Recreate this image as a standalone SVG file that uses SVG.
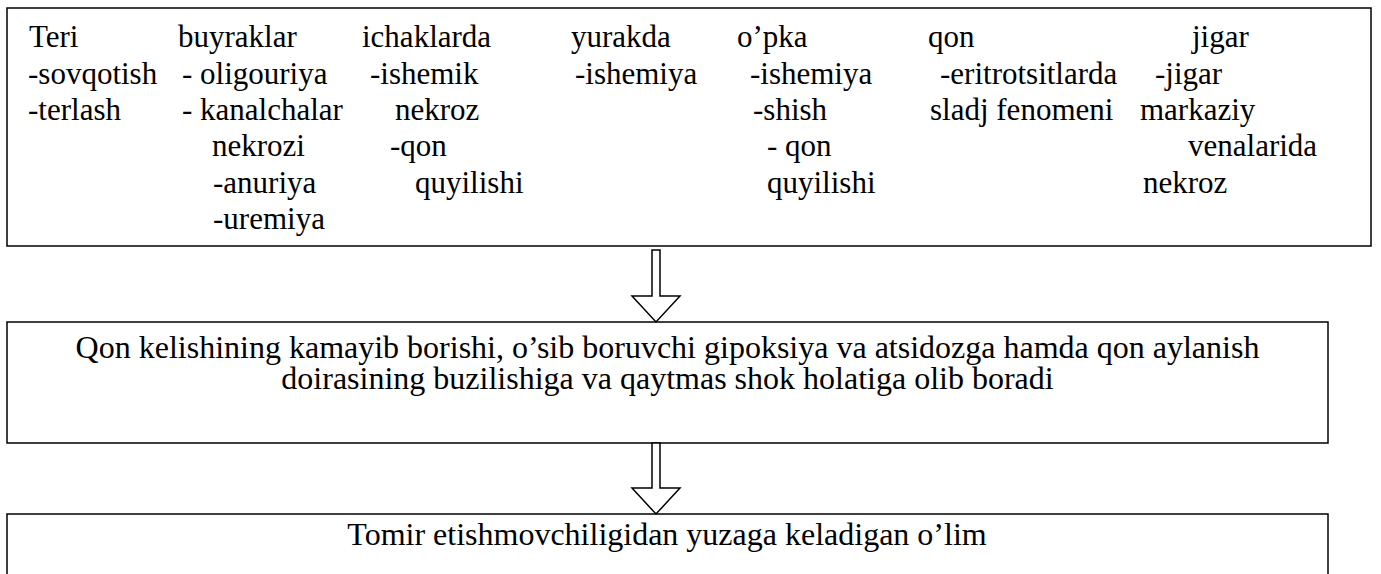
<svg xmlns="http://www.w3.org/2000/svg" width="1381" height="574" viewBox="0 0 1381 574">
<style>
.box{fill:#fff;stroke:#000;stroke-width:1.5}
.arr{fill:#fff;stroke:#000;stroke-width:1.5;stroke-linejoin:miter}
.t1{font-family:"Liberation Serif","Times New Roman",serif;font-size:31px;fill:#000}
.t2{font-family:"Liberation Serif","Times New Roman",serif;font-size:32px;fill:#000;text-anchor:middle}
</style>
<rect width="1381" height="574" fill="#fff"/>
<g id="node-organs">
<rect class="box" x="7" y="8" width="1364" height="238"/>
<text class="t1" y="47"><tspan x="29">Teri</tspan><tspan x="178">buyraklar</tspan><tspan x="362">ichaklarda</tspan><tspan x="571">yurakda</tspan><tspan x="737">o’pka</tspan><tspan x="928">qon</tspan><tspan x="1192">jigar</tspan></text>
<text class="t1" y="83.5"><tspan x="28">-sovqotish</tspan><tspan x="182">- oligouriya</tspan><tspan x="370">-ishemik</tspan><tspan x="575">-ishemiya</tspan><tspan x="750">-ishemiya</tspan><tspan x="940">-eritrotsitlarda</tspan><tspan x="1155">-jigar</tspan></text>
<text class="t1" y="119.5"><tspan x="28">-terlash</tspan><tspan x="182">- kanalchalar</tspan><tspan x="395">nekroz</tspan><tspan x="753">-shish</tspan><tspan x="930">sladj fenomeni</tspan><tspan x="1140">markaziy</tspan></text>
<text class="t1" y="156"><tspan x="212">nekrozi</tspan><tspan x="390">-qon</tspan><tspan x="767">- qon</tspan><tspan x="1188">venalarida</tspan></text>
<text class="t1" y="192.5"><tspan x="213">-anuriya</tspan><tspan x="415">quyilishi</tspan><tspan x="767">quyilishi</tspan><tspan x="1143">nekroz</tspan></text>
<text class="t1" y="229"><tspan x="213">-uremiya</tspan></text>
</g>
<g id="node-shock">
<rect class="box" x="7" y="322" width="1321" height="121"/>
<text class="t2" x="667.5" y="358">Qon kelishining kamayib borishi, o’sib boruvchi gipoksiya va atsidozga hamda qon aylanish</text>
<text class="t2" x="667.5" y="389">doirasining buzilishiga va qaytmas shok holatiga olib boradi</text>
</g>
<g id="node-death">
<rect class="box" x="7" y="514" width="1321" height="100"/>
<text class="t2" x="667" y="545">Tomir etishmovchiligidan yuzaga keladigan o’lim</text>
</g>
<g id="connectors">
<path class="arr" d="M652,250 H660 V296 H680 L656,322 L632,296 H652 Z"/>
<path class="arr" d="M652,443 H660 V488 H680 L656,514 L632,488 H652 Z"/>
</g>
</svg>
